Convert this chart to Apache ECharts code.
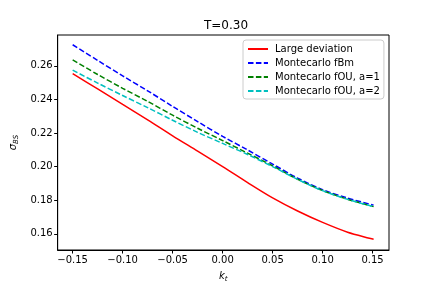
<!DOCTYPE html>
<html>
<head>
<meta charset="utf-8">
<script src="https://cdn.jsdelivr.net/npm/echarts@6/dist/echarts.min.js"></script>
<style>html,body{margin:0;padding:0;background:#fff}#c{width:432px;height:288px}</style>
</head>
<body>
<div id="c"></div>
<script>
var kValues = [-0.15, -0.125, -0.10, -0.075, -0.05, -0.025, 0, 0.025, 0.05, 0.075, 0.10, 0.125, 0.151];
var largeDeviation = [0.2553, 0.2462, 0.2370, 0.2278, 0.2183, 0.2092, 0.2000, 0.1905, 0.1814, 0.1736, 0.1668, 0.1610, 0.1568];
var mcFBm = [0.2725, 0.2632, 0.2540, 0.2451, 0.2358, 0.2268, 0.2180, 0.2099, 0.2015, 0.1932, 0.1863, 0.1813, 0.1771];
var mcFOU1 = [0.2635, 0.2548, 0.2466, 0.2388, 0.2306, 0.2228, 0.2155, 0.2080, 0.2005, 0.1925, 0.1858, 0.1806, 0.1762];
var mcFOU2 = [0.2574, 0.2497, 0.2423, 0.2351, 0.2276, 0.2204, 0.2138, 0.2072, 0.2000, 0.1924, 0.1857, 0.1805, 0.1762];
var seriesNames = ['Large deviation', 'Montecarlo fBm', 'Montecarlo fOU, a=1', 'Montecarlo fOU, a=2'];
var xTicks = [-0.15, -0.10, -0.05, 0.00, 0.05, 0.10, 0.15];
var yTicks = [0.16, 0.18, 0.20, 0.22, 0.24, 0.26];
var titleText = 'T=0.30';

function pairs(vals) { return kValues.map(function (k, i) { return [k, vals[i]]; }); }
function fmt(v) { return v.toFixed(2).replace('-', '\u2212'); }
var FONT = 'DejaVu Sans';
var dash = [5.5, 2.4];
function mkSeries(name, vals, color, dashed) {
  return {
    name: name, type: 'line', data: pairs(vals), symbol: 'none', smooth: 0.3,
    lineStyle: { color: color, width: 1.5, type: dashed ? dash : 'solid' },
    itemStyle: { color: color }, animation: false
  };
}
var chart = echarts.init(document.getElementById('c'), null, { renderer: 'canvas' });
chart.setOption({
  animation: false,
  backgroundColor: '#ffffff',
  title: { text: titleText, left: 221, top: 15, textAlign: 'center',
    textStyle: { fontFamily: FONT, fontSize: 12, fontWeight: 'normal', color: '#000' } },
  grid: { left: 54, right: 43, top: 35, bottom: 36, show: true, borderColor: '#000', borderWidth: 1, backgroundColor: 'transparent' },
  legend: {
    orient: 'vertical', left: 243, top: 40,
    itemWidth: 20, itemHeight: 10, itemGap: 4,
    padding: [4, 4, 3, 4],
    itemStyle: { opacity: 0 },
    backgroundColor: 'rgba(255,255,255,0.8)', borderColor: '#cccccc', borderWidth: 1, borderRadius: 3,
    textStyle: { fontFamily: FONT, fontSize: 10, color: '#000', padding: [0, 0, 0, 2] },
    data: seriesNames
  },
  xAxis: {
    type: 'value', min: -0.165, max: 0.1664,
    name: '{i|k}{s|t}', nameLocation: 'middle', nameGap: 20,
    nameTextStyle: { rich: { i: { fontFamily: FONT, fontStyle: 'italic', fontSize: 10, color: '#000' }, s: { fontFamily: FONT, fontStyle: 'italic', fontSize: 7, color: '#000', padding: [6, 0, 0, 0] } } },
    axisLine: { show: true, onZero: false, lineStyle: { color: '#000', width: 1 } },
    axisTick: { show: true, inside: false, length: 3.5, lineStyle: { color: '#000' }, customValues: xTicks },
    axisLabel: { fontFamily: FONT, fontSize: 10, color: '#000', margin: 5, customValues: xTicks, formatter: fmt },
    splitLine: { show: false }
  },
  yAxis: {
    type: 'value', min: 0.1504, max: 0.2783,
    name: '{i|σ}{s|BS}', nameLocation: 'middle', nameGap: 33, nameRotate: 90,
    nameTextStyle: { rich: { i: { fontFamily: FONT, fontStyle: 'italic', fontSize: 10, color: '#000' }, s: { fontFamily: FONT, fontStyle: 'italic', fontSize: 7, color: '#000', padding: [6, 0, 0, 0] } } },
    axisLine: { show: true, onZero: false, lineStyle: { color: '#000', width: 1 } },
    axisTick: { show: true, inside: false, length: 3.5, lineStyle: { color: '#000' }, customValues: yTicks },
    axisLabel: { fontFamily: FONT, fontSize: 10, color: '#000', margin: 5, customValues: yTicks, formatter: fmt },
    splitLine: { show: false }
  },
  series: [
    mkSeries(seriesNames[0], largeDeviation, '#ff0000', false),
    mkSeries(seriesNames[1], mcFBm, '#0000ff', true),
    mkSeries(seriesNames[2], mcFOU1, '#008000', true),
    mkSeries(seriesNames[3], mcFOU2, '#00bfbf', true)
  ]
});
</script>
</body>
</html>
